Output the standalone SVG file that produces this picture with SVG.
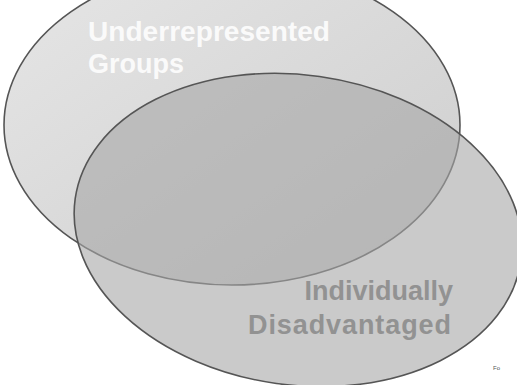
<svg xmlns="http://www.w3.org/2000/svg" width="517" height="385" viewBox="0 0 517 385">
<defs>
<linearGradient id="g1" x1="0" y1="0" x2="1" y2="1">
<stop offset="0" stop-color="#e6e6e6"/>
<stop offset="1" stop-color="#cdcdcd"/>
</linearGradient>
<style>
.ring{stroke:#555;stroke-width:1.6}
.lbl{font-family:"Liberation Sans",Arial,sans-serif;font-weight:bold;font-size:27px}
</style>
</defs>
<rect width="517" height="385" fill="#fff"/>
<g id="underrepresented">
<ellipse class="ring" cx="232" cy="125" rx="228" ry="160" fill="url(#g1)"/>
</g>
<g id="disadvantaged">
<ellipse class="ring" cx="298" cy="230" rx="225" ry="155" transform="rotate(8 298 230)" fill="#a6a6a6" fill-opacity="0.6"/>
</g>
<g id="labels">
<text class="lbl" x="88" y="41" fill="#fafafa" textLength="242" lengthAdjust="spacingAndGlyphs">Underrepresented</text>
<text class="lbl" x="88" y="73" fill="#fafafa">Groups</text>
<text class="lbl" x="453" y="300" fill="#929292" text-anchor="end">Individually</text>
<text class="lbl" x="248" y="334" fill="#929292" textLength="203" lengthAdjust="spacing">Disadvantaged</text>
<text x="493" y="370" font-family="Liberation Sans,Arial,sans-serif" font-size="6" fill="#555">Fo</text>
</g>
</svg>
